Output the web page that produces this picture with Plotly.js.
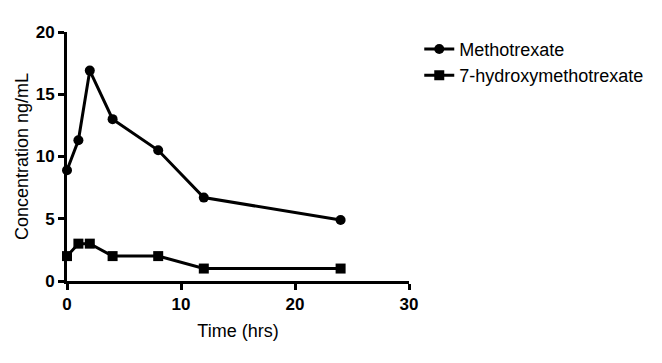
<!DOCTYPE html>
<html>
<head>
<meta charset="utf-8">
<script src="https://cdn.plot.ly/plotly-3.0.1.min.js"></script>
<style>html,body{margin:0;padding:0;background:#fff;}#chart{width:662px;height:363px;}</style>
</head>
<body>
<div id="chart"></div>
<script>
const timeHrs = [0, 1, 2, 4, 8, 12, 24];
const methotrexate = [8.9, 11.3, 16.9, 13.0, 10.5, 6.7, 4.9];
const hydroxyMtx = [2, 3, 3, 2, 2, 1, 1];
const seriesNames = ['Methotrexate', '7-hydroxymethotrexate'];

const traces = [
  {x: timeHrs, y: methotrexate, name: seriesNames[0], type: 'scatter', mode: 'lines+markers',
   line: {color: '#000', width: 3}, marker: {symbol: 'circle', size: 10, color: '#000'}, cliponaxis: false},
  {x: timeHrs, y: hydroxyMtx, name: seriesNames[1], type: 'scatter', mode: 'lines+markers',
   line: {color: '#000', width: 3}, marker: {symbol: 'square', size: 10, color: '#000'}, cliponaxis: false}
];

const fam = 'Liberation Sans, Arial, sans-serif';
const axisFont = {family: fam, size: 17, color: '#000', weight: 'bold'};
const titleFont = {family: fam, size: 18, color: '#000'};
const layout = {
  width: 662, height: 363,
  margin: {l: 67, r: 253, t: 32, b: 82},
  paper_bgcolor: '#fff', plot_bgcolor: '#fff',
  showlegend: true,
  legend: {x: 1.03, y: 1.005, xanchor: 'left', yanchor: 'top', itemwidth: 30,
           font: {family: fam, size: 18, color: '#000'},
           tracegroupgap: 0, bgcolor: 'rgba(0,0,0,0)'},
  xaxis: {range: [0, 30], tickvals: [0, 10, 20, 30], showgrid: false, zeroline: false,
          showline: true, linecolor: '#000', linewidth: 3, ticks: 'outside', ticklen: 6, tickwidth: 3, tickcolor: '#000',
          tickfont: axisFont,
          title: {text: 'Time (hrs)', font: titleFont, standoff: 11}},
  yaxis: {range: [0, 20], tickvals: [0, 5, 10, 15, 20], showgrid: false, zeroline: false,
          showline: true, linecolor: '#000', linewidth: 3, ticks: 'outside', ticklen: 6, tickwidth: 3, tickcolor: '#000',
          tickfont: axisFont,
          title: {text: 'Concentration ng/mL', font: titleFont, standoff: 3}},
  font: {family: fam, color: '#000'}
};

Plotly.newPlot('chart', traces, layout, {displayModeBar: false, staticPlot: true});
</script>
</body>
</html>
